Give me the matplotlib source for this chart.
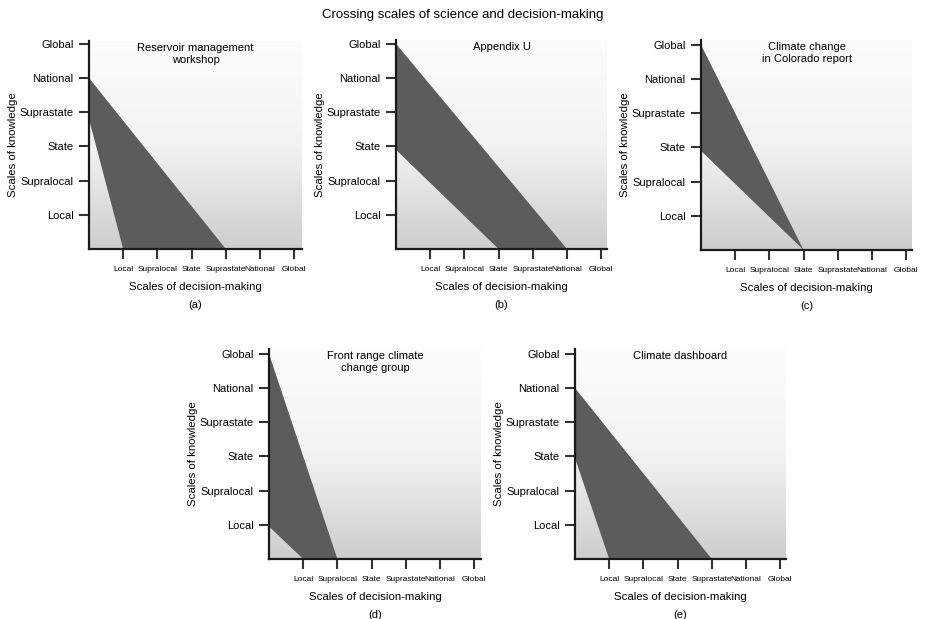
import numpy as np
import matplotlib
matplotlib.use("Agg")
import matplotlib.pyplot as plt

plt.rcParams['font.family'] = ['Liberation Sans', 'DejaVu Sans']

scales = ["Local", "Supralocal", "State", "Suprastate", "National", "Global"]
scale_pos = [1, 2, 3, 4, 5, 6]

titles = ["Reservoir management\nworkshop", "Appendix U", "Climate change\nin Colorado report",
          "Front range climate\nchange group", "Climate dashboard"]
letters = ["(a)", "(b)", "(c)", "(d)", "(e)"]
# knowledge scale where the upper / lower edge meets the y axis
top_know = [5, 6, 6, 6, 5]
low_know = [3.8, 2.9, 2.9, 0.95, 2.95]
# decision scale where the upper / lower edge meets the x axis
top_dec = [4, 5, 3, 2, 4]
low_dec = [1, 3, 3, 1, 1]

# axes boxes in pixels: left, right, top, bottom
boxes = [(89, 302, 41, 249), (396, 607, 40, 249), (701, 912, 40, 250),
         (269, 481, 349, 559), (575, 786, 349, 559)]

W, H = 926, 619
fig = plt.figure(figsize=(W / 100, H / 100), dpi=100)
fig.text(0.5, 1 - 15 / H, "Crossing scales of science and decision-making",
         ha='center', va='center', fontsize=9.5)

grad = np.linspace(0, 1, 256).reshape(-1, 1)
cmap = matplotlib.colors.LinearSegmentedColormap.from_list(
    "bg", ["#fcfcfc", "#f3f3f3", "#cdcdcd"])

for i in range(5):
    l, r, t, b = boxes[i]
    ax = fig.add_axes([l / W, 1 - b / H, (r - l) / W, (b - t) / H])
    xmax = (r - l) / 34.2
    ymax = (b - t) / 34.2
    ax.imshow(grad, extent=[0, xmax, 0, ymax], cmap=cmap, aspect='auto',
              origin='upper', zorder=0)
    ax.set_xlim(0, xmax)
    ax.set_ylim(0, ymax)
    xs = [0, top_dec[i], low_dec[i], 0]
    ys = [top_know[i], 0, 0, low_know[i]]
    ax.fill(xs, ys, color='#5c5c5c', lw=0, zorder=2)

    for s in ['top', 'right']:
        ax.spines[s].set_visible(False)
    for s in ['left', 'bottom']:
        ax.spines[s].set_linewidth(1.6)
        ax.spines[s].set_color('#1a1a1a')
        ax.spines[s].set_zorder(3)

    ax.set_xticks(scale_pos)
    ax.set_xticklabels(scales, fontsize=6)
    ax.set_yticks(scale_pos)
    ax.set_yticklabels(scales, fontsize=8)
    ax.tick_params(axis='x', length=7, width=1.5, color='#333333', pad=5.5)
    ax.tick_params(axis='y', length=7, width=1.5, color='#333333', pad=4)

    ax.set_xlabel("Scales of decision-making", fontsize=8.2, labelpad=6)
    ax.set_ylabel("Scales of knowledge", fontsize=8.2, labelpad=1.5)
    ax.text(0.5, 0.99, titles[i], transform=ax.transAxes, ha='center', va='top',
            fontsize=8, zorder=4)
    fig.text((l + r) / 2 / W, 1 - (b + 56) / H, letters[i], ha='center',
             va='center', fontsize=8)

fig.savefig("out.png", dpi=100)
